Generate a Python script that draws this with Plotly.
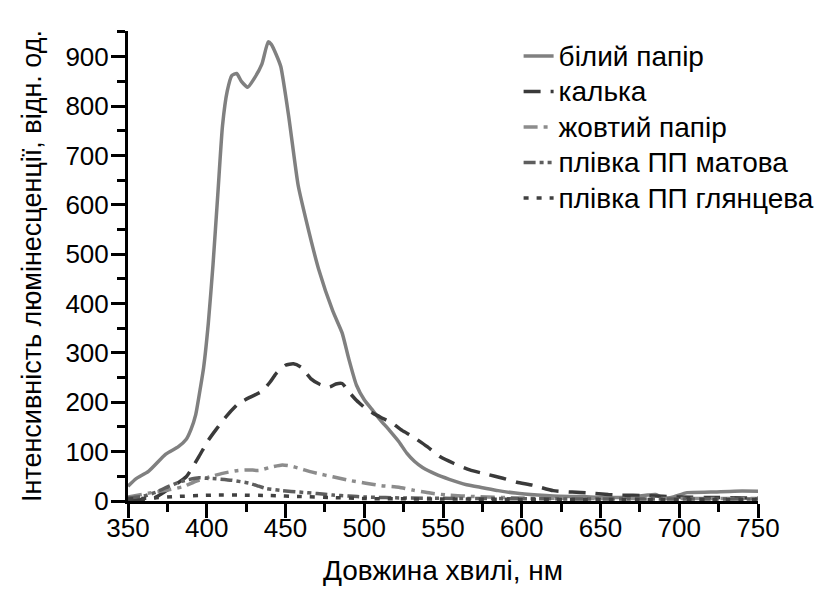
import plotly.graph_objects as go

# ---- data ----
names = ["білий папір", "калька", "жовтий папір", "плівка ПП матова", "плівка ПП глянцева"]

wl_white = [350, 355, 363, 374, 382, 387, 390, 393, 396, 398, 401, 404, 407, 410, 413, 416, 419, 422,
            426, 430, 435, 439, 441, 444, 447, 452, 458, 463, 471, 480, 486, 490, 495, 500, 505, 510,
            516, 522, 527, 532, 537, 545, 554, 565, 575, 585, 596, 610, 620, 637, 658, 670, 680, 685,
            690, 695, 705, 720, 735, 750]
val_white = [30, 45, 60, 95, 110, 125, 145, 175, 230, 270, 360, 480, 620, 760, 830, 862, 866, 850,
             838, 855, 885, 930, 925, 905, 880, 780, 640, 570, 470, 385, 340, 290, 235, 205, 185, 165,
             143, 120, 97, 80, 68, 55, 44, 33, 27, 21, 16, 12, 10, 9, 7, 8, 12, 13,
             6, 7, 17, 18, 20, 20]

wl_kalka = [350, 360, 366, 372, 380, 387, 395, 401, 406, 412, 420, 428, 435, 440, 444, 450, 455, 460,
            466, 472, 478, 482, 486, 490, 495, 501, 506, 512, 518, 524, 531, 540, 548, 557, 567, 578,
            588, 597, 607, 620, 632, 643, 655, 662, 679, 700, 725, 750]
val_kalka = [2, 3, 5, 16, 33, 49, 90, 123, 145, 170, 197, 211, 222, 240, 258, 275, 278, 271,
             248, 236, 231, 237, 238, 222, 204, 187, 177, 167, 157, 143, 130, 110, 90, 76, 63, 54,
             46, 38, 32, 21, 18, 16, 13, 12, 11, 8, 7, 6]

wl_yellow = [350, 363, 375, 385, 393, 402, 410, 420, 427, 433, 440, 448, 453, 459, 465, 470, 480, 490,
             501, 511, 522, 531, 542, 553, 570, 600, 650, 700, 750]
val_yellow = [8, 16, 22, 29, 40, 49, 56, 62, 63, 62, 68, 73, 71, 66, 60, 56, 49, 42,
              36, 31, 28, 22, 16, 12, 9, 6, 5, 5, 5]

wl_matte = [350, 360, 368, 374, 384, 395, 400, 406, 416, 427, 433, 438, 448, 459, 470, 480, 490, 501,
            525, 575, 650, 750]
val_matte = [6, 10, 18, 27, 40, 47, 46, 45, 42, 36, 30, 25, 21, 18, 15, 12, 10, 8,
             6, 5, 4, 4]

wl_gloss = [350, 365, 380, 395, 405, 420, 440, 460, 480, 500, 550, 650, 750]
val_gloss = [4, 6, 9, 11, 12, 12, 11, 9, 7, 5, 4, 3, 3]

x_ticks = [350, 400, 450, 500, 550, 600, 650, 700, 750]
y_ticks = [0, 100, 200, 300, 400, 500, 600, 700, 800, 900]

# ---- styling ----
series = [
    (wl_white, val_white, "#808080", "solid"),
    (wl_kalka, val_kalka, "#3a3a3a", "17px,10px"),
    (wl_yellow, val_yellow, "#8c8c8c", "14px,6px,4px,6px"),
    (wl_matte, val_matte, "#5e5e5e", "12px,4px,4px,4px,4px,4px"),
    (wl_gloss, val_gloss, "#404040", "5px,8px"),
]

FONT = "Liberation Sans, Arial, sans-serif"

fig = go.Figure()
for name, (x, y, c, d) in zip(names, series):
    fig.add_trace(go.Scatter(
        x=x, y=y, mode="lines",
        name='<span style="font-size:28px">' + name + "</span>",
        line=dict(color=c, width=3.5, dash=d, shape="spline", smoothing=0.5),
    ))

axis_common = dict(
    showline=True, linecolor="black", linewidth=3,
    ticks="outside", ticklen=14, tickwidth=3, tickcolor="black",
    showgrid=False, zeroline=False, mirror=False, automargin=False,
    tickfont=dict(family=FONT, size=26, color="black"),
)

fig.update_xaxes(
    range=[350, 750], tickvals=x_ticks, ticklabelstandoff=-12,
    minor=dict(dtick=25, tick0=350, ticklen=8, tickwidth=3, tickcolor="black", ticks="outside"),
    title=dict(text="Довжина хвилі, нм", font=dict(family=FONT, size=28, color="black"), standoff=19),
    **axis_common,
)
fig.update_yaxes(
    range=[0, 952], tickvals=y_ticks, ticklabelstandoff=-3,
    minor=dict(dtick=50, tick0=0, ticklen=8, tickwidth=3, tickcolor="black", ticks="outside"),
    title=dict(text="Інтенсивність люмінесценції, відн. од.", font=dict(family=FONT, size=27, color="black"), standoff=16),
    **axis_common,
)

fig.update_layout(
    width=818, height=591,
    margin=dict(l=128, r=60, t=31, b=90, autoexpand=False),
    paper_bgcolor="white", plot_bgcolor="white",
    font=dict(family=FONT, color="black"),
    legend=dict(
        x=0.62, y=0.995, xanchor="left", yanchor="top",
        font=dict(family=FONT, size=25, color="black"),
        bgcolor="rgba(0,0,0,0)", borderwidth=0,
    ),
)

fig.write_html("out.html")
